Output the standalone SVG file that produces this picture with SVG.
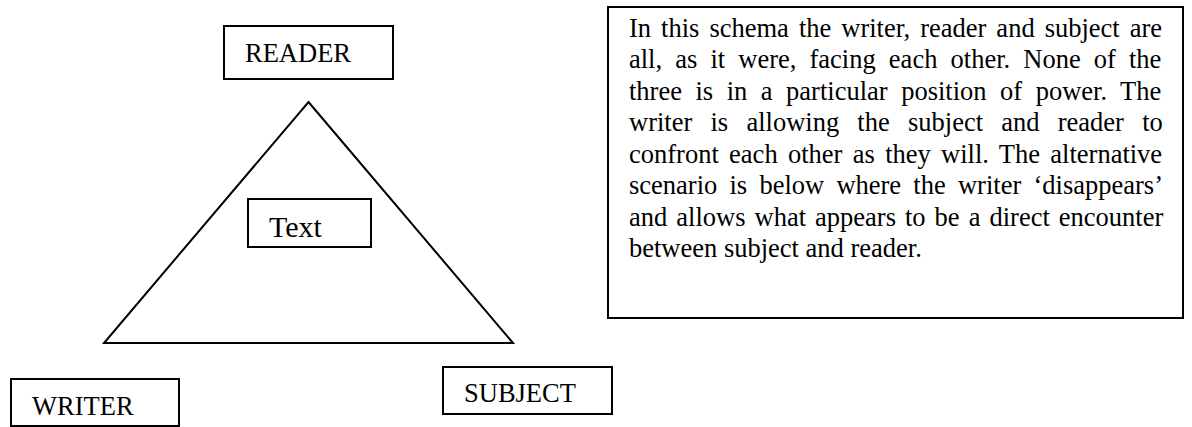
<svg xmlns="http://www.w3.org/2000/svg" width="1192" height="427" viewBox="0 0 1192 427">
<style>
.box{fill:#fff;stroke:#000;stroke-width:2}
.lbl{font-family:"Liberation Serif","Times New Roman",serif;font-size:26.5px;fill:#000}
.para{font-family:"Liberation Serif","Times New Roman",serif;font-size:26.5px;fill:#000}
.tri{fill:none;stroke:#000;stroke-width:2}
</style>
<rect width="1192" height="427" fill="#fff"/>
<g id="connectors">
<polygon class="tri" points="308.5,102 513,343 104,343"/>
</g>
<g id="reader">
<rect class="box" x="224" y="26" width="169" height="53"/>
<text class="lbl" x="245" y="62">READER</text>
</g>
<g id="text">
<rect class="box" x="248" y="199" width="123" height="48"/>
<text class="lbl" x="269" y="237" style="font-size:30px">Text</text>
</g>
<g id="writer">
<rect class="box" x="11" y="379" width="168" height="47"/>
<text class="lbl" x="32" y="415">WRITER</text>
</g>
<g id="subject">
<rect class="box" x="443" y="367" width="169" height="47"/>
<text class="lbl" x="464" y="402">SUBJECT</text>
</g>
<g id="note">
<rect class="box" x="608" y="7" width="575" height="311"/>
<text class="para" x="629" y="37" word-spacing="3.4">In this schema the writer, reader and subject are</text>
<text class="para" x="629" y="68.4" word-spacing="6.5">all, as it were, facing each other. None of the</text>
<text class="para" x="629" y="99.9" word-spacing="6.9">three is in a particular position of power. The</text>
<text class="para" x="629" y="131.3" word-spacing="11.6">writer is allowing the subject and reader to</text>
<text class="para" x="629" y="162.7" word-spacing="3.7">confront each other as they will. The alternative</text>
<text class="para" x="629" y="194.1" word-spacing="5.6">scenario is below where the writer ‘disappears’</text>
<text class="para" x="629" y="225.6" word-spacing="2.4">and allows what appears to be a direct encounter</text>
<text class="para" x="629" y="257">between subject and reader.</text>
</g>
</svg>
